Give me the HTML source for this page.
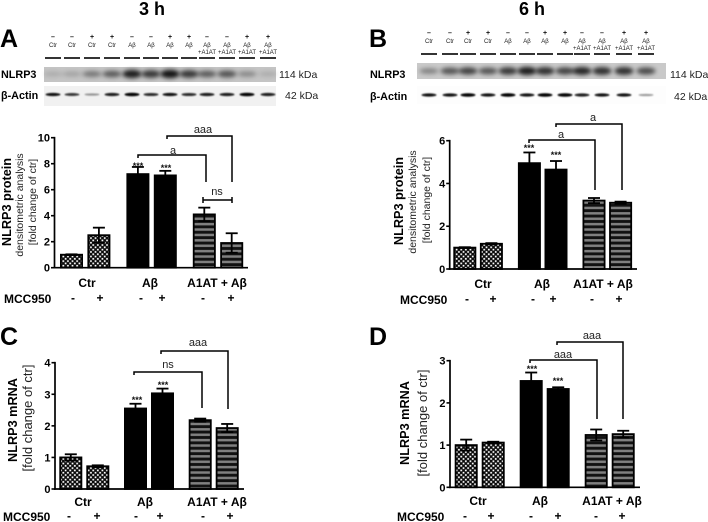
<!DOCTYPE html>
<html lang="en">
<head>
<meta charset="utf-8">
<title>NLRP3 protein and mRNA at 3 h and 6 h</title>
<style>
html,body{margin:0;padding:0;background:#fff;width:708px;height:522px;overflow:hidden}
svg{display:block}
text{font-family:"Liberation Sans",sans-serif;fill:#111}
.b{font-weight:bold}
.lane{font-size:6px;fill:#222;text-anchor:middle}
.sign{font-size:7px;font-weight:bold;text-anchor:middle}
.kda{font-size:10.5px;fill:#222}
.blotlabel{font-size:10.8px;font-weight:bold;fill:#000}
.panel{font-size:25px;font-weight:bold;fill:#000}
.time{font-size:18px;font-weight:bold;fill:#000}
.tick{font-size:11px;font-weight:bold;text-anchor:end;fill:#000}
.group{font-size:12px;font-weight:bold;text-anchor:middle;fill:#000}
.mcc{font-size:12px;font-weight:bold;fill:#000}
.pm{font-size:12px;font-weight:bold;text-anchor:middle;fill:#000}
.ann{font-size:11px;text-anchor:middle;fill:#222}
.star{font-size:9px;font-weight:bold;text-anchor:middle}
.yb{font-size:12.7px;font-weight:bold;text-anchor:middle;fill:#000}
.yr{font-size:10.5px;text-anchor:middle;fill:#222}
.yr2{font-size:13px;text-anchor:middle;fill:#222}
</style>
</head>
<body>
<svg id="figure" xmlns="http://www.w3.org/2000/svg" width="708" height="522" viewBox="0 0 708 522">
<defs>
<pattern id="checker" width="4.6" height="4.6" patternUnits="userSpaceOnUse"><rect width="4.6" height="4.6" fill="#0a0a0a"/><rect x="0.35" y="0.35" width="1.75" height="1.75" fill="#fff"/><rect x="2.65" y="2.65" width="1.75" height="1.75" fill="#fff"/></pattern>
<pattern id="stripes" width="5.4" height="5.4" patternUnits="userSpaceOnUse"><rect width="5.4" height="5.4" fill="#111"/><rect y="1.5" width="5.4" height="2.5" fill="#808080"/></pattern>
<filter id="blur1" x="-30%" y="-80%" width="160%" height="260%"><feGaussianBlur stdDeviation="0.8"/></filter>
<filter id="blur3" x="-30%" y="-80%" width="160%" height="260%"><feGaussianBlur stdDeviation="2"/></filter>
</defs>

<text class="time" x="139" y="15">3 h</text>
<text class="time" x="519" y="15">6 h</text>

<text class="panel" x="0" y="47">A</text>
<text class="panel" x="369" y="47">B</text>
<text class="panel" x="0" y="345">C</text>
<text class="panel" x="369" y="345">D</text>

<text class="blotlabel" x="1" y="78">NLRP3</text>
<text class="blotlabel" x="1" y="99">β-Actin</text>
<text class="kda" x="279" y="78">114 kDa</text>
<text class="kda" x="285" y="99">42 kDa</text>
<text class="blotlabel" x="370" y="78">NLRP3</text>
<text class="blotlabel" x="370" y="100">β-Actin</text>
<text class="kda" x="670" y="78">114 kDa</text>
<text class="kda" x="674" y="100">42 kDa</text>

<g>
<text class="yb" transform="translate(11 202) rotate(-90)">NLRP3 protein</text>
<text class="yr" transform="translate(23 205) rotate(-90)">densitometric  analysis</text>
<text class="yr" transform="translate(36 202) rotate(-90)">[fold change of ctr]</text>
</g>
<g>
<text class="yb" transform="translate(403 201) rotate(-90)">NLRP3 protein</text>
<text class="yr" transform="translate(416 202) rotate(-90)">densitometric  analysis</text>
<text class="yr" transform="translate(430 200) rotate(-90)">[fold change of ctr]</text>
</g>
<g>
<text class="yb" transform="translate(17 420) rotate(-90)">NLRP3 mRNA</text>
<text class="yr2" transform="translate(32 418) rotate(-90)">[fold change of ctr]</text>
</g>
<g>
<text class="yb" transform="translate(409 423) rotate(-90)">NLRP3 mRNA</text>
<text class="yr2" transform="translate(427 423) rotate(-90)">[fold change of ctr]</text>
</g>

<g id="blots"></g>
<g id="charts"></g>
</svg>

<script>
// Chart data
const categories = ['Ctr', 'Aβ', 'A1AT + Aβ'];
const mccSigns = ['-', '+'];
const panelAValues = [1.0, 2.5, 7.2, 7.1, 4.1, 1.9];
const panelAErrors = [0.03, 0.58, 0.55, 0.35, 0.52, 0.75];
const panelATicks = [0, 2, 4, 6, 8, 10];
const panelBValues = [1.0, 1.18, 4.95, 4.65, 3.2, 3.1];
const panelBErrors = [0.02, 0.03, 0.5, 0.4, 0.12, 0.05];
const panelBTicks = [0, 2, 4, 6];
const panelCValues = [1.0, 0.72, 2.55, 3.03, 2.18, 1.93];
const panelCErrors = [0.1, 0.03, 0.15, 0.15, 0.05, 0.13];
const panelCTicks = [0, 1, 2, 3, 4];
const panelDValues = [1.0, 1.06, 2.52, 2.33, 1.24, 1.26];
const panelDErrors = [0.13, 0.02, 0.2, 0.04, 0.13, 0.08];
const panelDTicks = [0, 1, 2, 3];
// Blot lane labels and estimated band darkness (0-1)
const laneSigns = ['–', '–', '+', '+', '–', '–', '+', '+', '–', '–', '+', '+'];
const laneNames = ['Ctr', 'Ctr', 'Ctr', 'Ctr', 'Aβ', 'Aβ', 'Aβ', 'Aβ', 'Aβ', 'Aβ', 'Aβ', 'Aβ'];
const laneSuffix = ['', '', '', '', '', '', '', '', '+A1AT', '+A1AT', '+A1AT', '+A1AT'];
const blotANlrp3 = [0.15, 0.2, 0.45, 0.6, 0.95, 0.8, 1, 0.8, 0.6, 0.65, 0.35, 0.15];
const blotAActin = [0.85, 0.7, 0.35, 0.8, 0.9, 0.75, 0.85, 0.75, 0.8, 0.8, 0.9, 0.8];
const blotBNlrp3 = [0.4, 0.65, 0.75, 0.65, 0.8, 0.95, 0.85, 0.75, 0.9, 0.85, 0.85, 0.7];
const blotBActin = [0.85, 0.85, 0.9, 0.85, 1, 0.85, 0.95, 0.9, 0.8, 0.85, 0.85, 0.35];

const SVGNS = 'http://www.w3.org/2000/svg';
function make(parent, tag, attrs, text) {
  const el = document.createElementNS(SVGNS, tag);
  for (const k in attrs) el.setAttribute(k, attrs[k]);
  if (text !== undefined) el.textContent = text;
  parent.appendChild(el);
  return el;
}
function line(parent, x1, y1, x2, y2, w) {
  return make(parent, 'line', { x1: x1, y1: y1, x2: x2, y2: y2, stroke: '#000', 'stroke-width': w });
}

function drawBlot(id, g, cfg, nlrp3, actin) {
  laneSigns.forEach(function (sign, i) {
    const cx = cfg.labelX[i];
    const seg = make(g, 'g', {});
    
    
    make(seg, 'text', { class: 'sign', x: cx, y: cfg.signY }, sign);
    make(seg, 'text', { class: 'lane', x: cx, y: cfg.nameY }, laneNames[i]);
    if (laneSuffix[i]) make(seg, 'text', { class: 'lane', x: cx, y: cfg.nameY + 7 }, laneSuffix[i]);
    line(seg, cx - cfg.barHalf, cfg.barY, cx + cfg.barHalf, cfg.barY, 1.6);
  });
  const bg = make(g, 'rect', { x: cfg.blotX, y: cfg.nlrpY, width: cfg.blotW, height: cfg.nlrpH, fill: cfg.nlrpBg });
  
  
  const bg2 = make(g, 'rect', { x: cfg.blotX, y: cfg.actinY, width: cfg.blotW, height: cfg.actinH, fill: cfg.actinBg });
  
  
  nlrp3.forEach(function (d, i) {
    const band = make(g, 'ellipse', {
      cx: cfg.labelX[i], cy: cfg.nlrpBand, rx: 9.5, ry: 1.8 + d * 2.4,
      fill: '#000', opacity: d * 0.9, filter: 'url(#blur3)'
    });
    
    
  });
  actin.forEach(function (d, i) {
    const band = make(g, 'ellipse', {
      cx: cfg.labelX[i], cy: cfg.actinBand, rx: 7.5, ry: 0.8 + d * 1.0,
      fill: '#000', opacity: Math.min(1, d * 1.1), filter: 'url(#blur1)'
    });
    
    
  });
}

function drawPanel(id, cfg, values, errors, ticks) {
  const root = document.getElementById('charts');
  const g = make(root, 'g', {});
  
  
  const yMax = ticks[ticks.length - 1];
  const yScale = function (v) { return cfg.y0 - (v / yMax) * (cfg.y0 - cfg.yTop); };
  const xScale = function (i) {
    const group = Math.floor(i / 2);
    return cfg.left + group * cfg.groupStep + (i % 2) * cfg.barStep;
  };
  const fills = ['url(#checker)', 'url(#checker)', '#000', '#000', 'url(#stripes)', 'url(#stripes)'];

  values.forEach(function (v, i) {
    const x = xScale(i);
    const y = yScale(v);
    const bar = make(g, 'rect', {
      x: x + 0.9, y: y, width: cfg.barW - 1.8, height: cfg.y0 - y,
      fill: fills[i], stroke: '#000', 'stroke-width': 1.8
    });
    
    
    const err = make(g, 'g', {});
    
    
    const cx = x + cfg.barW / 2;
    const hi = yScale(v + errors[i]);
    const lo = yScale(v - errors[i]);
    line(err, cx, hi, cx, lo, 1.8);
    line(err, cx - 6, hi, cx + 6, hi, 1.8);
    line(err, cx - 6, lo, cx + 6, lo, 1.8);
  });

  const yAxis = make(g, 'g', {});
  
  
  line(yAxis, cfg.axisX, cfg.yTop - 0.8, cfg.axisX, cfg.y0 + 0.8, 1.7);
  ticks.forEach(function (t) {
    const y = yScale(t);
    line(yAxis, cfg.axisX - 3.5, y, cfg.axisX, y, 1.6);
    make(yAxis, 'text', { class: 'tick', x: cfg.axisX - 4.5, y: y + 4 }, t);
  });
  const xAxis = line(g, cfg.axisX - 1, cfg.y0, cfg.axisEnd, cfg.y0, 1.7);
  
  

  categories.forEach(function (c, i) {
    const label = make(g, 'text', { class: 'group', x: cfg.groupX[i], y: cfg.groupY }, c);
    
    
  });
  const mcc = make(g, 'text', { class: 'mcc', x: cfg.mccX, y: cfg.mccY }, 'MCC950');
  
  
  cfg.signX.forEach(function (x, i) {
    const s = make(g, 'text', { class: 'pm', x: x, y: cfg.mccY - 1 }, mccSigns[i % 2]);
    
    
  });

  cfg.stars.forEach(function (st, i) {
    const s = make(g, 'text', { class: 'star', x: st[0], y: st[1] }, '***');
    
    
  });
  cfg.brackets.forEach(function (b, i) {
    const p = make(g, 'path', {
      d: 'M' + b.x1 + ' ' + b.y1 + 'V' + b.top + 'H' + b.x2 + 'V' + b.y2,
      fill: 'none', stroke: '#000', 'stroke-width': 1.5
    });
    
    
    const t = make(g, 'text', { class: 'ann', x: b.tx, y: b.ty }, b.label);
    
    
  });
  return g;
}

const blots = document.getElementById('blots');
drawBlot('blot-a', blots, {
  labelX: [53, 72, 92, 112, 132, 151, 170, 189, 207, 227, 247, 268],
  signY: 39, nameY: 47, barY: 58, barHalf: 8,
  blotX: 44, blotW: 232, nlrpY: 67, nlrpH: 15, nlrpBg: '#c4c4c4', nlrpBand: 74,
  actinY: 86, actinH: 20, actinBg: '#f1f1f1', actinBand: 94.5
}, blotANlrp3, blotAActin);
drawBlot('blot-b', blots, {
  labelX: [429, 450, 468, 488, 508, 527, 545, 565, 582, 602, 624, 646],
  signY: 35, nameY: 43, barY: 54, barHalf: 8,
  blotX: 417, blotW: 249, nlrpY: 63, nlrpH: 16, nlrpBg: '#c9c9c9', nlrpBand: 71,
  actinY: 86, actinH: 18, actinBg: '#fdfdfd', actinBand: 95
}, blotBNlrp3, blotBActin);

const panelA = drawPanel('panel-a', {
  axisX: 54.5, axisEnd: 248, y0: 267.7, yTop: 137.7,
  left: 60, barStep: 27.4, groupStep: 66.4, barW: 23,
  groupX: [87, 150, 217], groupY: 287, mccX: 4, mccY: 303,
  signX: [73, 100, 141, 162, 203, 231],
  stars: [[138, 169], [166, 171]],
  brackets: [
    { x1: 138, y1: 158, top: 155, x2: 206, y2: 182, tx: 173, ty: 154, label: 'a' },
    { x1: 167, y1: 139, top: 136, x2: 232, y2: 182, tx: 203, ty: 133, label: 'aaa' },
    { x1: 203, y1: 197, top: 200, x2: 203, y2: 203, tx: 217, ty: 195, label: 'ns' }
  ]
}, panelAValues, panelAErrors, panelATicks);
line(panelA, 203, 200, 232, 200, 1.5);
line(panelA, 232, 197, 232, 203, 1.5);

drawPanel('panel-b', {
  axisX: 449.7, axisEnd: 637, y0: 269, yTop: 140.7,
  left: 453.3, barStep: 26.6, groupStep: 64.6, barW: 23,
  groupX: [483, 542, 603], groupY: 288, mccX: 400, mccY: 304,
  signX: [467, 493, 533, 553, 592, 619],
  stars: [[529, 151], [556, 158]],
  brackets: [
    { x1: 529, y1: 143, top: 140, x2: 595, y2: 190, tx: 561, ty: 138, label: 'a' },
    { x1: 556, y1: 127, top: 124, x2: 622, y2: 190, tx: 593, ty: 121, label: 'a' }
  ]
}, panelBValues, panelBErrors, panelBTicks);

drawPanel('panel-c', {
  axisX: 55, axisEnd: 244, y0: 489, yTop: 362.7,
  left: 59.3, barStep: 27, groupStep: 64.7, barW: 23,
  groupX: [83, 145, 217], groupY: 506, mccX: 3, mccY: 521,
  signX: [69, 97, 136, 160, 203, 230],
  stars: [[137, 403], [163, 388]],
  brackets: [
    { x1: 134, y1: 375, top: 372, x2: 202, y2: 408, tx: 168, ty: 368, label: 'ns' },
    { x1: 161, y1: 354, top: 351, x2: 228, y2: 409, tx: 198, ty: 346, label: 'aaa' }
  ]
}, panelCValues, panelCErrors, panelCTicks);

drawPanel('panel-d', {
  axisX: 450, axisEnd: 640, y0: 487.3, yTop: 360.7,
  left: 454.7, barStep: 27, groupStep: 65, barW: 23,
  groupX: [478, 540, 612], groupY: 505, mccX: 397, mccY: 521,
  signX: [465, 491, 531, 558, 596, 622],
  stars: [[532, 372], [558, 384]],
  brackets: [
    { x1: 530, y1: 363, top: 360, x2: 597, y2: 419, tx: 563, ty: 358, label: 'aaa' },
    { x1: 557, y1: 345, top: 342, x2: 623, y2: 419, tx: 592, ty: 339, label: 'aaa' }
  ]
}, panelDValues, panelDErrors, panelDTicks);
</script>
</body>
</html>
